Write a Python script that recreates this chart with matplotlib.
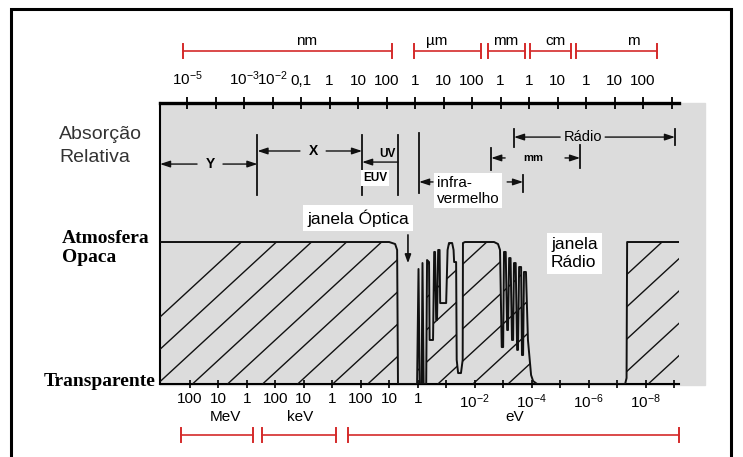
import matplotlib
matplotlib.use('Agg')
import matplotlib.pyplot as plt
import numpy as np
from matplotlib import font_manager
from matplotlib.patches import Rectangle, Polygon

# x = log10(comprimento de onda / m), y = absorcao relativa (0 transparente, 1 opaca)
curve_x = [-14.95, -6.91, -6.70, -6.63, -6.60, -5.93, -5.88, -5.84, -5.77, -5.74,
           -5.70, -5.61, -5.58, -5.51, -5.49, -5.37, -5.33, -5.30, -5.26, -5.23,
           -5.19, -5.14, -5.12, -4.91, -4.86, -4.81, -4.70, -4.65, -4.63, -4.56,
           -4.54, -4.49, -4.39, -4.33, -4.32, -4.25, -3.23, -3.09, -3.02, -2.96,
           -2.91, -2.88, -2.82, -2.77, -2.74, -2.70, -2.65, -2.60, -2.56, -2.53,
           -2.47, -2.42, -2.39, -2.35, -2.28, -2.25, -2.21, -2.18, -2.11, -2.04,
           -1.93, -1.86, -1.72, 1.37, 1.42, 1.44, 3.26]
curve_h = [1.0, 1.0, 0.986, 0.944, 0.0, 0.0, 0.81, 0.0, 0.0, 0.852,
           0.0, 0.0, 0.873, 0.859, 0.31, 0.31, 0.93, 0.93, 0.45, 0.45,
           0.944, 0.944, 0.57, 0.57, 0.944, 0.993, 0.993, 0.944, 0.859, 0.859,
           0.17, 0.077, 0.077, 0.17, 0.993, 1.0, 1.0, 0.986, 0.944, 0.26,
           0.26, 0.93, 0.93, 0.38, 0.38, 0.887, 0.887, 0.31, 0.31, 0.852,
           0.852, 0.24, 0.24, 0.824, 0.824, 0.204, 0.204, 0.789, 0.789, 0.31,
           0.063, 0.021, 0.0, 0.0, 0.042, 1.0, 1.0]

# escala de comprimento de onda (topo)
wl_ticks = list(range(-14, 4))
wl_labels = {-14: '10$^{-5}$', -12: '10$^{-3}$', -11: '10$^{-2}$', -10: '0,1', -9: '1',
             -8: '10', -7: '100', -6: '1', -5: '10', -4: '100', -3: '1', -2: '1',
             -1: '10', 0: '1', 1: '10', 2: '100'}
# escala de energia (base), log10(E / eV)
en_ticks = list(range(8, -10, -1))
en_labels = {8: '100', 7: '10', 6: '1', 5: '100', 4: '10', 3: '1', 2: '100', 1: '10',
             0: '1', -2: '10$^{-2}$', -4: '10$^{-4}$', -6: '10$^{-6}$', -8: '10$^{-8}$'}
HC = np.log10(1.23984e-6)   # lambda[m] = 1.24e-6 / E[eV]

# unidades: (nome, inicio, fim, posicao do texto)
top_units = [('nm', -14.14, -6.81, -9.79), ('µm', -6.04, -3.68, -5.23),
             ('mm', -3.44, -2.14, -2.81), ('cm', -1.96, -0.53, -1.09),
             ('m', -0.35, 2.49, 1.65)]
bottom_units = [('MeV', -14.21, -11.68, -12.67), ('keV', -11.37, -8.77, -10.04),
                ('eV', -8.35, 3.26, -2.49)]

# faixas espectrais: setas (de, para, y) e barras (x, y0, y1)
band_arrows = [(-13.65, -14.95, 1.549), (-12.74, -11.53, 1.549),
               (-10.04, -11.53, 1.641), (-9.12, -7.86, 1.641),
               (-6.60, -7.86, 1.563),
               (-5.37, -5.86, 1.423), (-2.77, -2.21, 1.423),
               (-2.84, -3.33, 1.592), (-0.74, -0.21, 1.592),
               (-0.91, -2.53, 1.739), (0.67, 3.12, 1.739)]
band_bars = [(-11.53, 1.331, 1.754), (-7.86, 1.331, 1.754), (-6.60, 1.331, 1.754),
             (-5.86, 1.345, 1.768), (-2.21, 1.352, 1.472), (-3.33, 1.507, 1.662),
             (-0.21, 1.521, 1.683), (-2.53, 1.669, 1.796), (3.12, 1.683, 1.796)]

names = {f.name for f in font_manager.fontManager.ttflist}
if 'Liberation Sans Narrow' in names:
    narrow, tick_fs = 'Liberation Sans Narrow', 12.5
else:
    narrow, tick_fs = 'Liberation Sans', 11
plt.rcParams['font.family'] = ['Liberation Sans', 'DejaVu Sans']
plt.rcParams['mathtext.fontset'] = 'custom'
plt.rcParams['mathtext.rm'] = narrow
plt.rcParams['mathtext.it'] = narrow
plt.rcParams['mathtext.bf'] = narrow

gray = '#dcdcdc'
red = '#d42a2a'

fig = plt.figure(figsize=(7.43, 4.57), dpi=100)
fig.add_artist(Rectangle((11 / 743, -0.05), 720 / 743, 448 / 457 + 0.05,
                         transform=fig.transFigure, fill=False, lw=2.2, ec='black'))
ax = fig.add_axes([160 / 743, 73 / 457, 519 / 743, 281 / 457])
ax.set_xlim(-14.95, 3.26)
ax.set_ylim(0, 1.979)
ax.set_facecolor(gray)
ax.add_patch(Rectangle((-14.95, -0.007), 19.13, 1.986, color=gray, clip_on=False, zorder=0))

# curva de absorcao com hachurado
ax.plot(curve_x, curve_h, color='#111111', lw=1.4, zorder=4)
poly = Polygon(list(zip(curve_x, curve_h)) + [(3.26, 0), (-14.95, 0)],
               closed=True, fc='none', ec='none')
ax.add_patch(poly)
slope = 0.185
for x0 in np.arange(2.18 - 1.23 * 16, 4, 1.23):
    ln, = ax.plot([x0, x0 + 12], [0, slope * 12], color='#111111', lw=1.0, zorder=3)
    ln.set_clip_path(poly)

# eixos
for s in ['right', 'top']:
    ax.spines[s].set_visible(False)
ax.spines['left'].set_linewidth(1.5)
ax.spines['bottom'].set_linewidth(1.5)
ax.set_yticks([])
ax.set_xticks([HC - e for e in en_ticks],
              labels=[en_labels.get(e, '') for e in en_ticks])
ax.tick_params(axis='x', direction='inout', length=6, width=1.2, pad=3,
               labelsize=tick_fs, labelfontfamily=narrow)

sec = ax.secondary_xaxis('top')
sec.set_xticks(wl_ticks, labels=[wl_labels.get(t, '') for t in wl_ticks])
sec.spines['top'].set_linewidth(2.4)
sec.tick_params(direction='inout', length=8, width=1.3, pad=7,
                labelsize=tick_fs, labelfontfamily=narrow)

# barras de unidades (vermelho)
def unit_bar(name, a, b, lx, y, ty):
    ax.plot([a, b], [y, y], color=red, lw=1.2, clip_on=False)
    for e in (a, b):
        ax.plot([e, e], [y - 0.05, y + 0.05], color=red, lw=1.4, clip_on=False)
    ax.text(lx, ty, name, ha='center', va='center', fontsize=tick_fs, family=narrow)

for name, a, b, lx in top_units:
    unit_bar(name, a, b, lx, 2.345, 2.415)
for name, a, b, lx in bottom_units:
    unit_bar(name, a, b, lx, -0.359, -0.235)

# faixas
for x_from, x_to, y in band_arrows:
    ax.annotate('', xy=(x_to, y), xytext=(x_from, y), annotation_clip=False,
                arrowprops=dict(arrowstyle='-|>,head_length=0.6,head_width=0.2',
                                color='#111111', lw=1.0, shrinkA=0, shrinkB=0))
for x, y0, y1 in band_bars:
    ax.plot([x, x], [y0, y1], color='#111111', lw=1.3)

bold = dict(fontweight='bold', ha='center', va='center')
ax.text(-13.19, 1.549, 'Y', fontsize=10, **bold)
ax.text(-9.58, 1.641, 'X', fontsize=10, **bold)
ax.text(-6.98, 1.62, 'UV', fontsize=8.5, **bold)
ax.text(-7.40, 1.451, 'EUV', fontsize=8.5, bbox=dict(fc='white', ec='none', pad=1.5), **bold)
ax.text(-1.86, 1.592, 'mm', fontsize=8, family=narrow, **bold)
ax.text(-0.11, 1.739, 'Rádio', fontsize=10.5, ha='center', va='center')
ax.text(-5.23, 1.36, 'infra-\nvermelho', fontsize=11, ha='left', va='center',
        linespacing=1.15, bbox=dict(fc='white', ec='none', pad=2))

# janelas
ax.text(-9.79, 1.169, 'janela Óptica', fontsize=12.5, ha='left', va='center',
        bbox=dict(fc='white', ec='none', pad=3))
ax.annotate('', xy=(-6.25, 0.85), xytext=(-6.25, 1.05), annotation_clip=False,
            arrowprops=dict(arrowstyle='-|>,head_length=0.5,head_width=0.18',
                            color='#111111', lw=1.2, shrinkA=0, shrinkB=0))
ax.text(-1.23, 0.92, 'janela\nRádio', fontsize=12.5, ha='left', va='center',
        linespacing=1.2, bbox=dict(fc='white', ec='none', pad=3))

# legendas laterais
ax.text(-18.49, 1.754, 'Absorção', fontsize=14, color='#333333', ha='left', va='center', clip_on=False)
ax.text(-18.49, 1.592, 'Relativa', fontsize=14, color='#333333', ha='left', va='center', clip_on=False)
serif = dict(family='Liberation Serif', fontweight='bold', fontsize=14, va='center')
ax.text(-18.39, 1.028, 'Atmosfera', ha='left', **serif)
ax.text(-18.39, 0.89, 'Opaca', ha='left', **serif)
ax.text(-15.12, 0.02, 'Transparente', ha='right', **serif)

fig.savefig('out.png', dpi=100)
